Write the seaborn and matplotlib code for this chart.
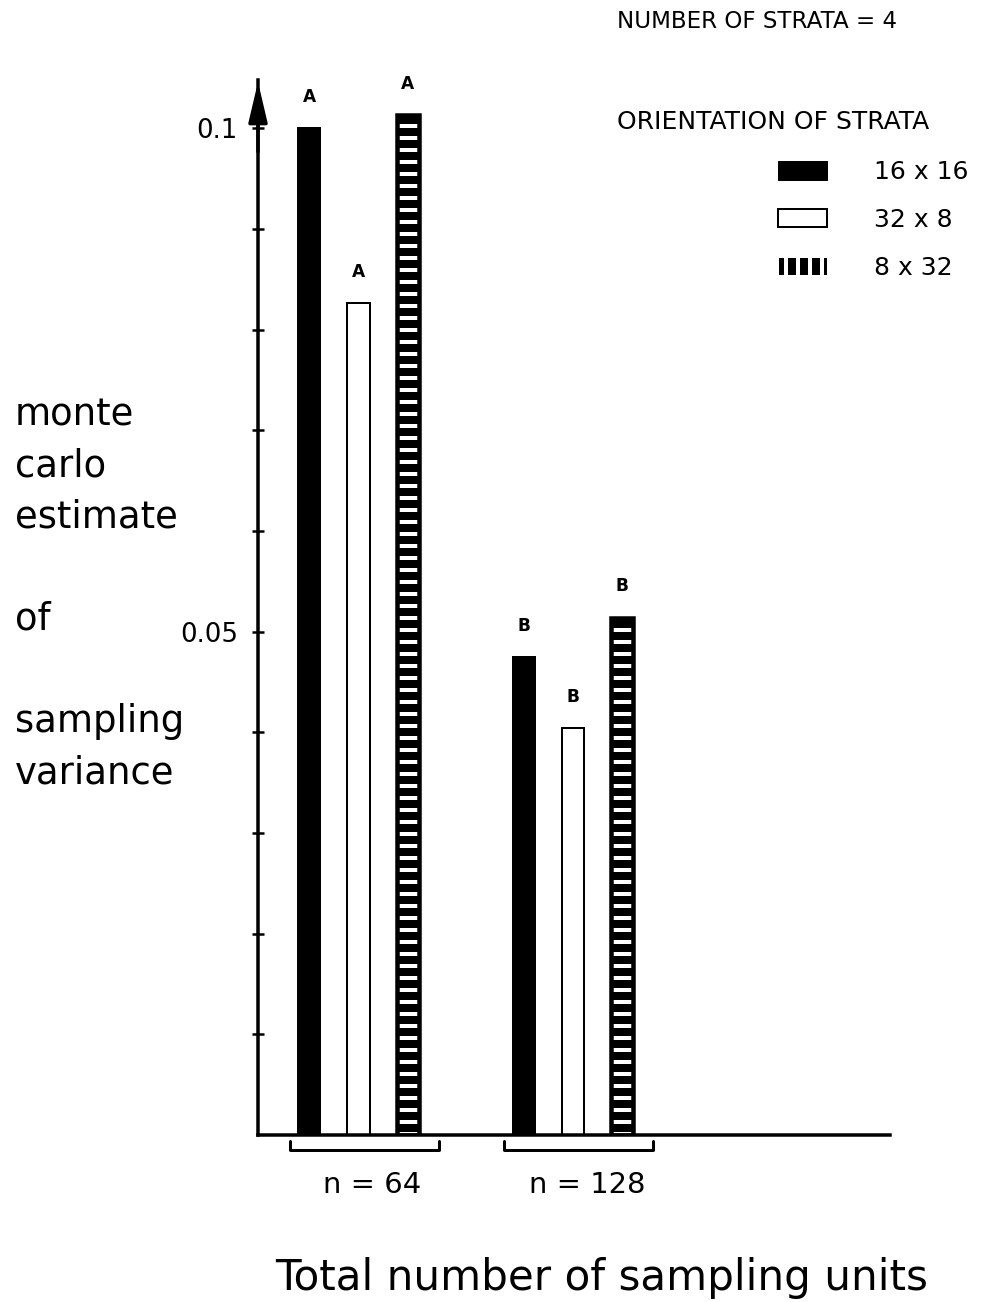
import pandas as pd
import numpy as np
import matplotlib.pyplot as plt
import matplotlib.patches as mpatches
import matplotlib.transforms as mtrans
import seaborn as sns

sns.set_style('white')
plt.rcParams['font.family'] = ['DejaVu Sans']
plt.rcParams['hatch.linewidth'] = 4
plt.rcParams['text.color'] = 'black'
plt.rcParams['axes.edgecolor'] = 'black'
plt.rcParams['xtick.color'] = 'black'
plt.rcParams['ytick.color'] = 'black'

# Data
groups = ['n = 64', 'n = 128']
orientations = ['16 x 16', '32 x 8', '8 x 32']
variance_n64 = [0.1000, 0.0826, 0.1013]
variance_n128 = [0.0475, 0.0404, 0.0514]
letters_n64 = ['A', 'A', 'A']
letters_n128 = ['B', 'B', 'B']

df = pd.DataFrame({
    'group': np.repeat(groups, 3),
    'orientation': orientations * 2,
    'variance': variance_n64 + variance_n128,
    'letter': letters_n64 + letters_n128,
})

fig = plt.figure(figsize=(1000 / 72, 1302 / 72), dpi=72)
ax = fig.add_axes([0.258, 0.1283, 0.632, 0.8103])

sns.barplot(data=df, x='group', y='variance', hue='orientation',
            hue_order=orientations, order=groups,
            palette=['black', 'white', 'black'], edgecolor='black',
            linewidth=2, width=0.69, gap=0.55, ax=ax, legend=False)

# hatched bars: black with white horizontal dashes
for p in ax.containers[2]:
    p.set_hatch('-')
    p.set_edgecolor('white')
    p.set_linewidth(0)
    ax.add_patch(mpatches.Rectangle((p.get_x(), p.get_y()), p.get_width(), p.get_height(),
                                    fill=False, edgecolor='black', linewidth=4.5))

# letters above bars
for cont, hue in zip(ax.containers, orientations):
    for p, g in zip(cont, groups):
        let = df[(df.group == g) & (df.orientation == hue)].letter.iloc[0]
        ax.text(p.get_x() + p.get_width() / 2, p.get_height() + 0.0022, let,
                ha='center', va='bottom', fontsize=17, fontweight='bold')

ax.set_ylim(0, 0.1048)
ax.set_xlim(-0.469, 2.479)
sns.despine(ax=ax)
ax.spines['left'].set_linewidth(3.5)
ax.spines['bottom'].set_linewidth(3.5)

ax.set_yticks([0.05, 0.1])
ax.set_yticklabels(['0.05', '0.1'], fontsize=26)
ax.set_yticks(np.arange(0.01, 0.101, 0.01), minor=True)
ax.tick_params(axis='y', which='both', direction='inout', length=12, width=2.5, pad=14, left=True)
ax.tick_params(axis='x', length=0, pad=36, labelsize=29)
shift = mtrans.ScaledTranslation(14 / 72, 0, fig.dpi_scale_trans)
for lab in ax.get_xticklabels():
    lab.set_transform(lab.get_transform() + shift)
ax.set_xlabel('')
ax.set_ylabel('')

# arrow on top of y axis
ax.annotate('', xy=(0, 1.0), xytext=(0, 0.93), xycoords='axes fraction',
            arrowprops=dict(arrowstyle='-|>,head_length=0.85,head_width=0.2',
                            color='black', lw=3.5, mutation_scale=40))

# brackets under the groups
tr = ax.get_xaxis_transform()
for i in range(len(groups)):
    x0, x1 = i - 0.32, i + 0.375
    ax.plot([x0, x0, x1, x1], [-0.006, -0.014, -0.014, -0.006], color='black',
            lw=3, transform=tr, clip_on=False)

fig.text(0.015, 1 - 396 / 1302, 'monte\ncarlo\nestimate\n\nof\n\nsampling\nvariance',
         fontsize=37, va='top', ha='left', linespacing=1.49)
fig.text(0.602, 1 - 1278 / 1302, 'Total number of sampling units', fontsize=42,
         ha='center', va='center')

fig.text(0.617, 1 - 22 / 1302, 'NUMBER OF STRATA = 4', fontsize=23, va='center')
fig.text(0.617, 1 - 122 / 1302, 'ORIENTATION OF STRATA', fontsize=25, va='center')

handles = [mpatches.Patch(facecolor='black', edgecolor='black'),
           mpatches.Patch(facecolor='white', edgecolor='black', linewidth=2),
           mpatches.Patch(facecolor='black', edgecolor='white', hatch='|')]
fig.legend(handles, orientations, loc='upper left', bbox_to_anchor=(0.778, 0.877),
           frameon=False, fontsize=25, handlelength=1.95, handleheight=0.75,
           handletextpad=1.9, labelspacing=0.95, borderpad=0, borderaxespad=0)

fig.savefig('out.png', dpi=72)
